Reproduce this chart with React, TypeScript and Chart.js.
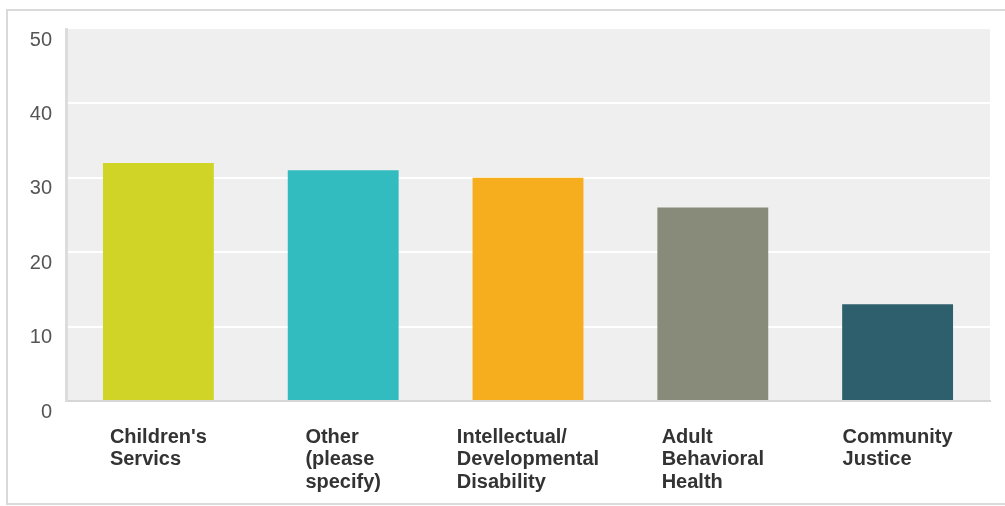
import React, { useEffect, useRef } from "react";
import { Chart, registerables } from "chart.js";

Chart.register(...registerables);

const categories: string[][] = [
  ["Children's", "Servics"],
  ["Other", "(please", "specify)"],
  ["Intellectual/", "Developmental", "Disability"],
  ["Adult", "Behavioral", "Health"],
  ["Community", "Justice"],
];
const values: number[] = [32, 31, 30, 26, 13];
const barColors: string[] = ["#cfd427", "#33bcbf", "#f6ae1f", "#888a7a", "#2e5f6c"];
const yMax = 50;
const yStep = 10;

const plotBg = {
  id: "plotBg",
  beforeDraw(chart: any) {
    const { ctx, chartArea } = chart;
    ctx.save();
    ctx.fillStyle = "#efefef";
    ctx.fillRect(chartArea.left, chartArea.top, chartArea.right - chartArea.left, chartArea.bottom - chartArea.top);
    ctx.restore();
  },
};

// Draws multi-line category labels as a block centred on the category, lines left-aligned.
const blockLabels = {
  id: "blockLabels",
  afterDraw(chart: any) {
    const { ctx, chartArea } = chart;
    const xScale = chart.scales.x;
    const labels = chart.data.labels as string[][];
    ctx.save();
    ctx.font = "bold 20px 'Liberation Sans', Arial, sans-serif";
    ctx.fillStyle = "#333";
    ctx.textAlign = "left";
    ctx.textBaseline = "middle";
    labels.forEach((lines, i) => {
      const cx = xScale.getPixelForValue(i);
      const w = Math.max(...lines.map((l) => ctx.measureText(l).width));
      const x0 = cx - w / 2;
      lines.forEach((line, j) => {
        ctx.fillText(line, x0, chartArea.bottom + 36 + j * 22.5);
      });
    });
    ctx.restore();
  },
};

export default function App() {
  const ref = useRef<HTMLCanvasElement>(null);
  useEffect(() => {
    document.body.style.margin = "0";
    const chart = new Chart(ref.current!, {
      type: "bar",
      data: {
        labels: categories,
        datasets: [
          {
            data: values,
            backgroundColor: barColors,
            borderWidth: 0,
            barPercentage: 0.6,
            categoryPercentage: 1,
          },
        ],
      },
      plugins: [plotBg, blockLabels],
      options: {
        animation: false,
        responsive: false,
        maintainAspectRatio: false,
        layout: { padding: { top: 29, right: 15, bottom: 0, left: 0 } },
        plugins: { legend: { display: false }, tooltip: { enabled: false } },
        scales: {
          x: {
            grid: { display: false },
            border: { display: true, color: "#d6d6d6", width: 2 },
            ticks: { display: false },
            afterFit: (s: any) => {
              s.height = 105;
              s.paddingLeft = 0;
              s.paddingRight = 0;
            },
          },
          y: {
            min: 0,
            max: yMax,
            ticks: {
              stepSize: yStep,
              labelOffset: 11,
              padding: 14,
              color: "#555",
              font: { family: "'Liberation Sans', Arial, sans-serif", size: 20 },
            },
            grid: {
              color: (c: any) => (c.tick && c.tick.value === yMax ? "rgba(0,0,0,0)" : "#ffffff"),
              lineWidth: 2,
              drawTicks: false,
            },
            border: { display: true, color: "#dcdcdc", width: 3 },
            afterFit: (s: any) => {
              s.width = 66;
              s.paddingTop = 0;
              s.paddingBottom = 0;
            },
          },
        },
      },
    });
    return () => chart.destroy();
  }, []);
  return (
    <div style={{ position: "relative", width: 1005, height: 506, overflow: "hidden", background: "#fff" }}>
      <div
        style={{
          position: "absolute",
          left: 6,
          top: 9,
          width: 1100,
          height: 496,
          border: "2px solid #dadada",
          boxSizing: "border-box",
        }}
      />
      <canvas ref={ref} width={1005} height={506} style={{ position: "absolute", left: 0, top: 0 }} />
    </div>
  );
}
